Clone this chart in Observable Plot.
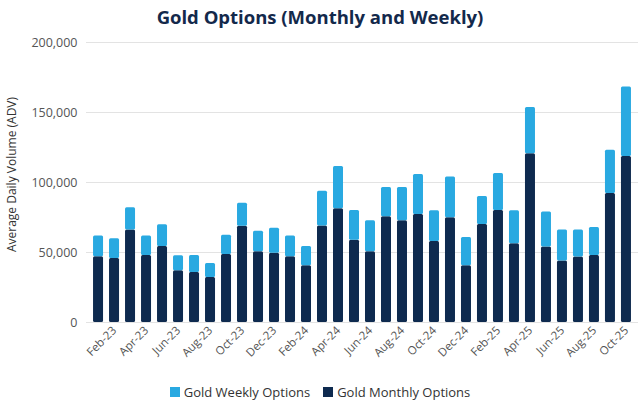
<!DOCTYPE html>
<html>
<head>
<meta charset="utf-8">
<script src="https://cdn.jsdelivr.net/npm/d3@7"></script>
<script src="https://cdn.jsdelivr.net/npm/@observablehq/plot@0.6"></script>
<style>
  html, body { margin: 0; padding: 0; background: #fff; }
  body { width: 640px; height: 405px; overflow: hidden; font-family: "Open Sans", "Noto Sans", sans-serif; }
  #title { height: 34px; line-height: 34px; text-align: center; font-size: 18.5px; font-weight: 700; color: #13294b; padding-left: 0; box-sizing: border-box; }
  #legend { display: flex; justify-content: center; align-items: center; gap: 13px; height: 26px; font-size: 13px; color: #333; margin-left: 0px; }
  .item { display: flex; align-items: center; gap: 4px; }
  .sw { width: 10px; height: 10px; display: inline-block; }
</style>
</head>
<body>
<div id="title">Gold Options (Monthly and Weekly)</div>
<div id="chart"></div>
<div id="legend"></div>
<script>
const months = ["Jan-23","Feb-23","Mar-23","Apr-23","May-23","Jun-23","Jul-23","Aug-23","Sep-23","Oct-23","Nov-23","Dec-23",
  "Jan-24","Feb-24","Mar-24","Apr-24","May-24","Jun-24","Jul-24","Aug-24","Sep-24","Oct-24","Nov-24","Dec-24",
  "Jan-25","Feb-25","Mar-25","Apr-25","May-25","Jun-25","Jul-25","Aug-25","Sep-25","Oct-25"];
const monthly = [46900,45700,66000,47900,54300,36900,35700,32100,48600,68800,50500,49500,
  46900,40500,69000,81200,58800,50500,75500,72600,77100,57900,74800,40500,
  70000,80000,56200,120500,54000,44000,46700,47900,92100,118600];
const weekly = [14800,14100,15900,13800,15500,10700,12200,10000,13800,16400,14700,17900,
  14800,13800,24800,30200,21200,22100,20900,23800,28600,21900,29200,20200,
  20000,26400,23600,33100,25000,22000,19300,20000,31000,49700];
const seriesNames = ["Gold Monthly Options", "Gold Weekly Options"];
const seriesColors = ["#0e2a4f", "#29a9e1"];
const yTicks = [0, 50000, 100000, 150000, 200000];
const xTickLabels = months.filter((m, i) => i % 2 === 1);
const yTitle = "Average Daily Volume (ADV)";

const data = [];
months.forEach((m, i) => {
  data.push({month: m, series: seriesNames[0], value: monthly[i]});
  data.push({month: m, series: seriesNames[1], value: weekly[i]});
});

const chart = Plot.plot({
  width: 640,
  height: 345,
  marginLeft: 86,
  marginRight: 2,
  marginTop: 8,
  marginBottom: 57,
  style: {fontFamily: "'Open Sans', 'Noto Sans', sans-serif", fontSize: "12px", color: "#555", background: "#fff"},
  x: {domain: months, padding: 0.375, paddingOuter: 0.44, label: null},
  y: {domain: [0, 200000], label: null},
  color: {domain: seriesNames, range: seriesColors},
  marks: [
    Plot.ruleY(yTicks, {stroke: "#e3e3e3", strokeWidth: 1}),
    Plot.barY(data, Plot.stackY({x: "month", y: "value", fill: "series", order: seriesNames, rx: 1.5})),
    Plot.axisY({ticks: yTicks, tickSize: 0, tickPadding: 9, tickFormat: d => d3.format(",")(d), fontSize: 12.5, fill: "#555", label: null}),
    Plot.axisX({ticks: xTickLabels, tickSize: 0, tickPadding: 6, tickRotate: -45, fontSize: 11.5, fill: "#555", label: null}),
    Plot.text([yTitle], {text: d => d, frameAnchor: "left", textAnchor: "middle", rotate: -90, dx: -74, dy: -8, fontSize: 12, fill: "#333"})
  ]
});
document.getElementById("chart").appendChild(chart);

const legend = d3.select("#legend");
[1, 0].forEach(i => {
  const it = legend.append("div").attr("class", "item");
  it.append("span").attr("class", "sw").style("background", seriesColors[i]);
  it.append("span").text(seriesNames[i]);
});
</script>
</body>
</html>
